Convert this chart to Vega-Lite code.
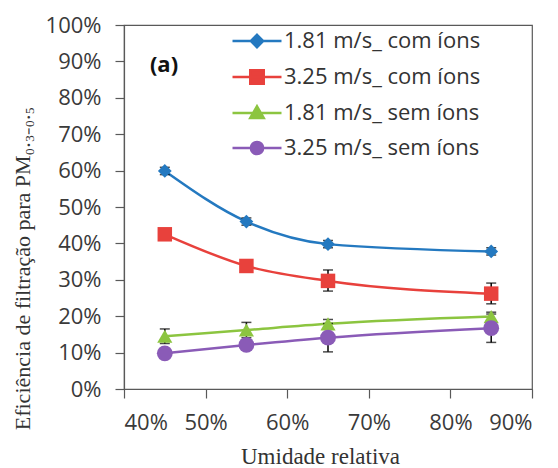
{
  "$schema": "https://vega.github.io/schema/vega-lite/v6.json",
  "width": 408,
  "height": 364,
  "autosize": {"type": "none"},
  "padding": {"left": 124, "top": 25, "right": 26, "bottom": 79},
  "background": "white",
  "config": {
    "view": {"stroke": "#595959", "strokeWidth": 1.2},
    "axis": {
      "grid": false,
      "domainColor": "#595959",
      "domainWidth": 1.2,
      "tickColor": "#595959",
      "tickWidth": 1.2,
      "tickSize": 9,
      "labelFont": "Open Sans",
      "labelFontSize": 22,
      "labelColor": "#3a3a3a",
      "labelPadding": 14,
      "labelOverlap": false,
      "titleFont": "Liberation Serif",
      "titleFontWeight": "normal",
      "titleColor": "#333333"
    }
  },
  "datasets": {
    "main": [
      {"s": "1.81 m/s_ com íons", "x": 0.45, "y": 0.599, "lo": 0.589, "hi": 0.609},
      {"s": "1.81 m/s_ com íons", "x": 0.55, "y": 0.460, "lo": 0.450, "hi": 0.470},
      {"s": "1.81 m/s_ com íons", "x": 0.65, "y": 0.398, "lo": 0.388, "hi": 0.408},
      {"s": "1.81 m/s_ com íons", "x": 0.85, "y": 0.378, "lo": 0.368, "hi": 0.388},
      {"s": "3.25 m/s_ com íons", "x": 0.45, "y": 0.425, "lo": 0.410, "hi": 0.440},
      {"s": "3.25 m/s_ com íons", "x": 0.55, "y": 0.338, "lo": 0.323, "hi": 0.353},
      {"s": "3.25 m/s_ com íons", "x": 0.65, "y": 0.297, "lo": 0.269, "hi": 0.327},
      {"s": "3.25 m/s_ com íons", "x": 0.85, "y": 0.262, "lo": 0.234, "hi": 0.291},
      {"s": "1.81 m/s_ sem íons", "x": 0.45, "y": 0.145, "lo": 0.125, "hi": 0.165},
      {"s": "1.81 m/s_ sem íons", "x": 0.55, "y": 0.162, "lo": 0.141, "hi": 0.183},
      {"s": "1.81 m/s_ sem íons", "x": 0.65, "y": 0.179, "lo": 0.167, "hi": 0.191},
      {"s": "1.81 m/s_ sem íons", "x": 0.85, "y": 0.199, "lo": 0.187, "hi": 0.211},
      {"s": "3.25 m/s_ sem íons", "x": 0.45, "y": 0.098, "lo": 0.088, "hi": 0.108},
      {"s": "3.25 m/s_ sem íons", "x": 0.55, "y": 0.121, "lo": 0.111, "hi": 0.131},
      {"s": "3.25 m/s_ sem íons", "x": 0.65, "y": 0.141, "lo": 0.102, "hi": 0.180},
      {"s": "3.25 m/s_ sem íons", "x": 0.85, "y": 0.167, "lo": 0.128, "hi": 0.206}
    ],
    "note": [
      {"t": "(a)", "x": 0.449, "y": 0.89}
    ]
  },
  "encoding": {
    "x": {
      "field": "x", "type": "quantitative",
      "scale": {"domain": [0.4, 0.9], "nice": false, "zero": false},
      "axis": {"values": [0.4, 0.5, 0.6, 0.7, 0.8, 0.9], "format": ".0%", "title": "Umidade relativa", "titleFontSize": 23, "titlePadding": 12, "titleX": 196}
    }
  },
  "layer": [
    {
      "data": {"name": "main"},
      "mark": {"type": "line", "interpolate": "monotone", "strokeWidth": 2.5},
      "encoding": {
        "y": {
          "field": "y", "type": "quantitative",
          "scale": {"domain": [0, 1], "nice": false},
          "axis": {"values": [0, 0.1, 0.2, 0.3, 0.4, 0.5, 0.6, 0.7, 0.8, 0.9, 1], "labelOverlap": false, "format": ".0%", "title": "Eficiência de filtração para PM₀.₃₋₀.₅", "titleFontSize": 22, "titleX": -102, "titleY": 243, "titleAngle": 270, "titleAlign": "center", "titleBaseline": "middle"}
        },
        "color": {
          "field": "s", "type": "nominal",
          "scale": {"domain": ["1.81 m/s_ com íons", "3.25 m/s_ com íons", "1.81 m/s_ sem íons", "3.25 m/s_ sem íons"], "range": ["#2479c0", "#e8413c", "#8cc540", "#8a5bb7"]},
          "legend": {
            "title": null,
            "orient": "none",
            "legendX": 122,
            "legendY": 5,
            "padding": 0,
            "labelFont": "Open Sans",
            "labelFontSize": 22,
            "labelColor": "#333333",
            "labelOffset": 16,
            "rowPadding": 12,
            "symbolSize": 150,
            "labelLimit": 400,
            "encode": {
              "symbols": {
                "update": {
                  "shape": {"signal": "datum.value == '1.81 m/s_ com íons' ? 'M-4,0H4M0,-1L1,0L0,1L-1,0Z' : datum.value == '3.25 m/s_ com íons' ? 'M-4,0H4M-1.1,-1.1H1.1V1.1H-1.1Z' : datum.value == '1.81 m/s_ sem íons' ? 'M-4,0H4M0,-1.1L1.1,0.8H-1.1Z' : 'M-4,0H4M-1,0A1,1,0,1,0,1,0A1,1,0,1,0,-1,0Z'"},
                  "fill": {"scale": "color", "field": "value"},
                  "stroke": {"scale": "color", "field": "value"},
                  "strokeWidth": {"value": 2.5},
                  "size": {"value": 150},
                  "opacity": {"value": 1},
                  "fillOpacity": {"value": 1},
                  "strokeOpacity": {"value": 1}
                }
              }
            }
          }
        }
      }
    },
    {
      "data": {"name": "main"},
      "mark": {"type": "errorbar", "color": "black", "thickness": 1.5, "ticks": {"size": 10, "thickness": 1.5, "color": "black"}},
      "encoding": {
        "y": {
          "field": "lo", "type": "quantitative",
          "scale": {"domain": [0, 1], "nice": false},
          "axis": {"values": [0, 0.1, 0.2, 0.3, 0.4, 0.5, 0.6, 0.7, 0.8, 0.9, 1], "labelOverlap": false, "format": ".0%", "title": "Eficiência de filtração para PM₀.₃₋₀.₅", "titleFontSize": 22, "titleX": -102, "titleY": 243, "titleAngle": 270, "titleAlign": "center", "titleBaseline": "middle"}
        },
        "y2": {"field": "hi"}
      }
    },
    {
      "data": {"name": "main"},
      "mark": {"type": "point", "filled": true, "opacity": 1},
      "encoding": {
        "y": {
          "field": "y", "type": "quantitative",
          "scale": {"domain": [0, 1], "nice": false},
          "axis": {"values": [0, 0.1, 0.2, 0.3, 0.4, 0.5, 0.6, 0.7, 0.8, 0.9, 1], "labelOverlap": false, "format": ".0%", "title": "Eficiência de filtração para PM₀.₃₋₀.₅", "titleFontSize": 22, "titleX": -102, "titleY": 243, "titleAngle": 270, "titleAlign": "center", "titleBaseline": "middle"}
        },
        "color": {"field": "s", "type": "nominal"},
        "size": {
          "field": "s", "type": "nominal",
          "scale": {"domain": ["3.25 m/s_ sem íons", "1.81 m/s_ sem íons", "3.25 m/s_ com íons", "1.81 m/s_ com íons"], "range": [250, 190, 280, 180]},
          "legend": null
        },
        "shape": {
          "field": "s", "type": "nominal",
          "scale": {"domain": ["3.25 m/s_ sem íons", "1.81 m/s_ sem íons", "3.25 m/s_ com íons", "1.81 m/s_ com íons"], "range": ["circle", "triangle-up", "square", "diamond"]},
          "legend": null
        }
      }
    },
    {
      "data": {"name": "note"},
      "mark": {"type": "text", "font": "Open Sans", "fontSize": 22, "fontWeight": "bold", "color": "#111111"},
      "encoding": {
        "y": {
          "field": "y", "type": "quantitative",
          "scale": {"domain": [0, 1], "nice": false},
          "axis": {"values": [0, 0.1, 0.2, 0.3, 0.4, 0.5, 0.6, 0.7, 0.8, 0.9, 1], "labelOverlap": false, "format": ".0%", "title": "Eficiência de filtração para PM₀.₃₋₀.₅", "titleFontSize": 22, "titleX": -102, "titleY": 243, "titleAngle": 270, "titleAlign": "center", "titleBaseline": "middle"}
        },
        "text": {"field": "t"}
      }
    }
  ]
}
